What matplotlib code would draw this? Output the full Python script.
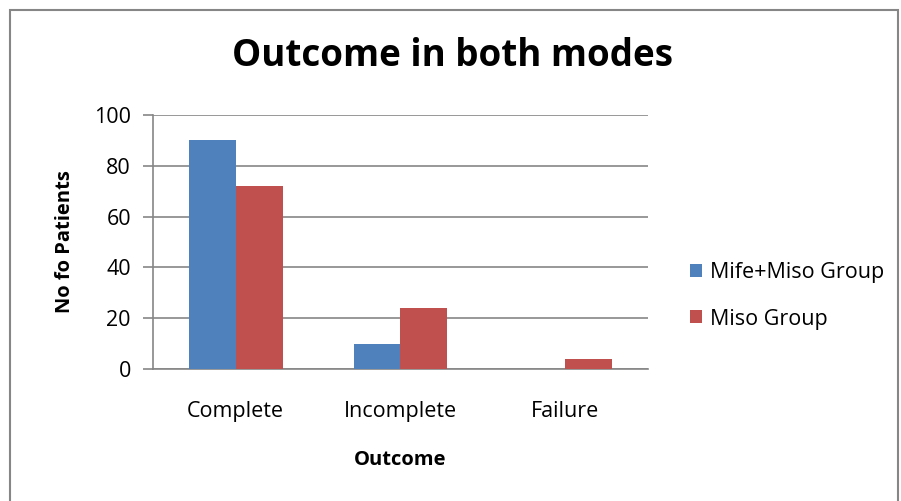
import matplotlib.pyplot as plt
import numpy as np
from matplotlib.patches import Rectangle

# data
categories = ['Complete', 'Incomplete', 'Failure']
mife_miso = [90, 10, 0]
miso = [72, 24, 4]
series_names = ['Mife+Miso Group', 'Miso Group']

plt.rcParams['font.family'] = ['Open Sans', 'DejaVu Sans']

fig = plt.figure(figsize=(9.01, 5.01), dpi=100)
ax = fig.add_axes([0.170, 0.2635, 0.549, 0.507])

x = np.arange(len(categories))
width = 0.285
ax.bar(x - width / 2, mife_miso, width, color='#4F81BD', label=series_names[0], zorder=3)
ax.bar(x + width / 2, miso, width, color='#C0504D', label=series_names[1], zorder=3)

ax.set_xlim(-0.5, 2.5)
ax.set_ylim(0, 100)
ax.set_yticks(range(0, 101, 20))
ax.set_xticks(x)
ax.set_xticklabels(categories)
ax.grid(True, axis='y', color='#868686', linewidth=1.2, zorder=0)

for side in ['top', 'right']:
    ax.spines[side].set_visible(False)
for side in ['left', 'bottom']:
    ax.spines[side].set_color('#868686')
    ax.spines[side].set_linewidth(1.2)

ax.tick_params(axis='y', length=7, color='#868686', width=1.2, labelsize=15.5, pad=9)
ax.tick_params(axis='x', length=0, labelsize=15.5, pad=23)

ax.set_ylabel('No fo Patients', fontsize=14.5, fontweight='bold', labelpad=14)
ax.set_xlabel('Outcome', fontsize=14.5, fontweight='bold', labelpad=20)

fig.text(0.502, 0.888, 'Outcome in both modes', ha='center', va='center',
         fontsize=26.5, fontweight='bold')

ax.legend(loc='center left', bbox_to_anchor=(0.744, 0.41), bbox_transform=fig.transFigure,
          frameon=False, fontsize=15.5, handlelength=0.55, handleheight=0.55,
          handletextpad=0.4, labelspacing=1.2)

# outer chart border
fig.patches.append(Rectangle((10 / 901, -0.05), 888 / 901, 1 - 10 / 501 + 0.05,
                             transform=fig.transFigure, fill=False,
                             edgecolor='#868686', linewidth=1.5))

fig.savefig('out.png', dpi=100)
